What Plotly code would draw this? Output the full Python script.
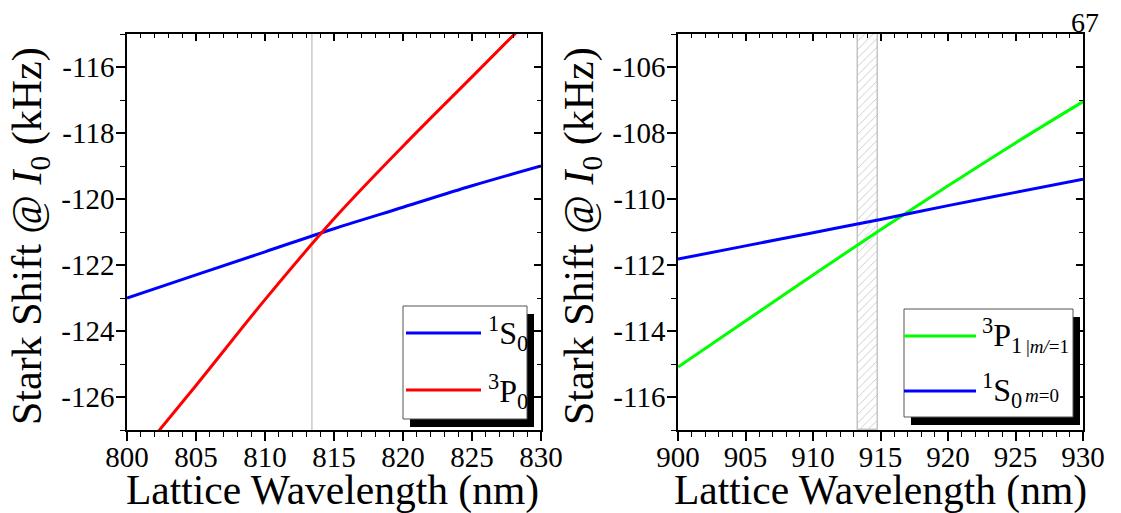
import plotly.graph_objects as go

# ---------------- data ----------------
# Left panel: 3P0 / 1S0 near 813 nm
wl_left = [800, 805, 810, 815, 820, 825, 830]
s0_left = [-123.0, -122.3, -121.6, -120.9, -120.25, -119.6, -119.0]
p0_left = [-128.2, -125.65, -123.05, -120.6, -118.4, -116.3, -114.2]
magic_left = 813.4

# Right panel: 3P1 |m|=1 / 1S0 m=0 near 915 nm
wl_right = [900, 905, 910, 915, 920, 925, 930]
p1_right = [-115.09, -113.7, -112.3, -110.93, -109.6, -108.3, -107.05]
s0_right = [-111.82, -111.42, -111.02, -110.62, -110.2, -109.8, -109.4]
band_lo, band_hi = 913.3, 914.8

x_left_ticks = [800, 805, 810, 815, 820, 825, 830]
x_right_ticks = [900, 905, 910, 915, 920, 925, 930]
y_left_ticks = [-116, -118, -120, -122, -124, -126]
y_right_ticks = [-106, -108, -110, -112, -114, -116]

BLUE, RED, GREEN = "#0000ff", "#ff0000", "#00ff00"
FONT = "'Liberation Serif', 'Times New Roman', Times, serif"
W, H = 1121, 513


def px(x):
    return x / W


def py(y):
    return 1 - y / H


def lbl(v):
    return [str(t).replace("\u2212", "-") for t in v]


fig = go.Figure()

# hatched band (right panel)
fig.add_trace(go.Bar(
    x=[(band_lo + band_hi) / 2], y=[12], base=[-117], width=[band_hi - band_lo],
    xaxis="x2", yaxis="y2",
    marker=dict(color="white", line=dict(color="#c4c4c4", width=1.5),
                pattern=dict(shape="/", fgcolor="#c8c8c8", bgcolor="white", size=6, solidity=0.15)),
    showlegend=False, hoverinfo="skip"))

fig.add_trace(go.Scatter(x=wl_left, y=s0_left, mode="lines", line=dict(color=BLUE, width=3),
                         line_shape="spline", xaxis="x", yaxis="y", showlegend=False))
fig.add_trace(go.Scatter(x=wl_left, y=p0_left, mode="lines", line=dict(color=RED, width=3),
                         line_shape="spline", xaxis="x", yaxis="y", showlegend=False))
fig.add_trace(go.Scatter(x=wl_right, y=p1_right, mode="lines", line=dict(color=GREEN, width=3),
                         line_shape="spline", xaxis="x2", yaxis="y2", showlegend=False))
fig.add_trace(go.Scatter(x=wl_right, y=s0_right, mode="lines", line=dict(color=BLUE, width=3),
                         line_shape="spline", xaxis="x2", yaxis="y2", showlegend=False))
# empty traces to bind the inner-tick overlay axes
for xa, ya in [("x3", "y"), ("x", "y3"), ("x4", "y2"), ("x2", "y4")]:
    fig.add_trace(go.Scatter(x=[], y=[], xaxis=xa, yaxis=ya, showlegend=False, hoverinfo="skip"))

tickfont = dict(family=FONT, size=29, color="black")
dom_y = [py(430), py(34)]
dom_xl = [px(127), px(541)]
dom_xr = [px(678), px(1083)]


def main_axis(domain, rng, tickvals, anchor, minor_dt, standoff):
    return dict(domain=domain, range=rng, anchor=anchor, showgrid=False, zeroline=False,
                automargin=False,
                showline=True, linecolor="black", linewidth=1.5, mirror=True,
                ticks="outside", ticklen=9, tickwidth=1.5, tickcolor="black",
                tickvals=tickvals, ticktext=lbl(tickvals), tickfont=tickfont,
                ticklabelstandoff=standoff,
                minor=dict(ticks="outside", ticklen=5, tickwidth=1.2, tickcolor="black", dtick=minor_dt,
                           showgrid=False),
                fixedrange=True)


def overlay_axis(rng, overlaying, side, anchor, dt, minor_dt):
    return dict(range=rng, overlaying=overlaying, side=side, anchor=anchor, showgrid=False,
                zeroline=False, showline=False, showticklabels=False, automargin=False,
                ticks="inside", ticklen=7, tickwidth=1.5, tickcolor="black", dtick=dt,
                tick0=0,
                minor=dict(ticks="inside", ticklen=4, tickwidth=1.2, tickcolor="black", dtick=minor_dt,
                           showgrid=False),
                fixedrange=True)


fig.update_layout(
    template="none",
    width=W, height=H, margin=dict(l=0, r=0, t=0, b=0, autoexpand=False),
    font=dict(family=FONT, color="black"),
    paper_bgcolor="white", plot_bgcolor="white", showlegend=False, bargap=0,
    xaxis=main_axis(dom_xl, [800, 830], x_left_ticks, "y", 1, -9),
    yaxis=main_axis(dom_y, [-127, -115], y_left_ticks, "x", 1, -4),
    xaxis2=main_axis(dom_xr, [900, 930], x_right_ticks, "y2", 1, -9),
    yaxis2=main_axis(dom_y, [-117, -105], y_right_ticks, "x2", 1, -4),
    xaxis3=overlay_axis([800, 830], "x", "top", "y", 5, 1),
    yaxis3=overlay_axis([-127, -115], "y", "right", "x", 2, 1),
    xaxis4=overlay_axis([900, 930], "x2", "top", "y2", 5, 1),
    yaxis4=overlay_axis([-117, -105], "y2", "right", "x2", 2, 1),
)

shapes = []
# magic wavelength line (left)
shapes.append(dict(type="line", xref="x", yref="paper", x0=magic_left, x1=magic_left,
                   y0=dom_y[0], y1=dom_y[1], line=dict(color="#bdbdbd", width=1.2), layer="below"))


def legend_box(x0, y0, x1, y1):
    shapes.append(dict(type="rect", xref="paper", yref="paper", x0=px(x0 + 7), x1=px(x1 + 7),
                       y0=py(y1 + 8), y1=py(y0 + 8), fillcolor="black", line=dict(width=0)))
    shapes.append(dict(type="rect", xref="paper", yref="paper", x0=px(x0), x1=px(x1),
                       y0=py(y1), y1=py(y0), fillcolor="white", line=dict(color="#555555", width=1)))


def legend_line(x0, x1, y, color):
    shapes.append(dict(type="line", xref="paper", yref="paper", x0=px(x0), x1=px(x1),
                       y0=py(y), y1=py(y), line=dict(color=color, width=3)))


legend_box(403, 306, 527, 419)
legend_line(406, 481, 333, BLUE)
legend_line(406, 481, 390, RED)

legend_box(904, 309, 1073, 417)
legend_line(904, 976, 336, GREEN)
legend_line(904, 976, 391, BLUE)

fig.update_layout(shapes=shapes)

ann = []


def text(x, y, s, size, xanchor="center", yanchor="middle", angle=0):
    ann.append(dict(xref="paper", yref="paper", x=px(x), y=py(y), text=s, showarrow=False,
                    xanchor=xanchor, yanchor=yanchor, textangle=angle,
                    font=dict(family=FONT, size=size, color="black")))


ytitle = "Stark Shift @ <i>I</i><sub>0</sub> (kHz)"
text(30, 236, ytitle, 42, angle=-90)
text(582, 236, ytitle, 42, angle=-90)
text(332, 490, "Lattice Wavelength (nm)", 41.5)
text(880, 490, "Lattice Wavelength (nm)", 41.5)
text(1085, 22, "67", 28)

text(486, 333, "<sup>1</sup>S<sub>0</sub>", 32, xanchor="left")
text(486, 391, "<sup>3</sup>P<sub>0</sub>", 32, xanchor="left")
text(980, 335, "<sup>3</sup>P<sub>1</sub>", 32, xanchor="left")
text(1024, 346, "|<i>m/</i>=1", 19, xanchor="left")
text(980, 390, "<sup>1</sup>S<sub>0</sub>", 32, xanchor="left")
text(1023, 395, "<i>m</i>=0", 19, xanchor="left")

fig.update_layout(annotations=ann)

fig.write_html("out.html", config={"displayModeBar": False},
               post_script="document.body.style.margin='0px';document.body.style.overflow='hidden';")
